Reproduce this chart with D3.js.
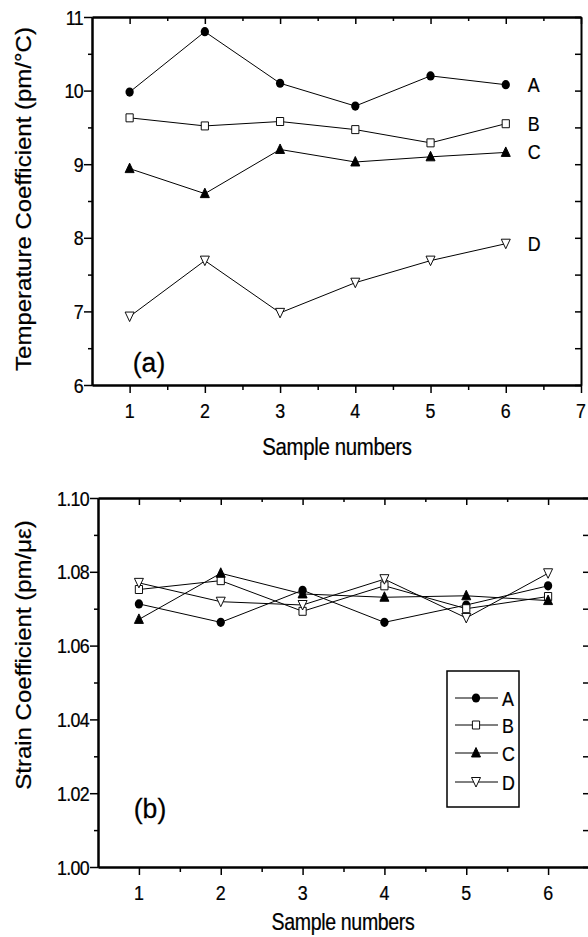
<!DOCTYPE html>
<html>
<head>
<meta charset="utf-8">
<script src="https://cdn.jsdelivr.net/npm/d3@7"></script>
<style>
  body { margin: 0; background: #fff; }
  text { font-family: "Liberation Sans", Arial, sans-serif; fill: #000; stroke: #000; stroke-width: 0.25; }
</style>
</head>
<body>
<svg id="chart" width="588" height="937"></svg>
<script>
// sample numbers on the x axis
const samples = [1, 2, 3, 4, 5, 6];
const seriesNames = ["A", "B", "C", "D"];

// (a) temperature coefficient, pm/°C
const tempA = [9.98, 10.80, 10.10, 9.79, 10.20, 10.08];
const tempB = [9.63, 9.52, 9.58, 9.47, 9.29, 9.55];
const tempC = [8.94, 8.60, 9.20, 9.03, 9.10, 9.16];
const tempD = [6.93, 7.69, 6.98, 7.39, 7.69, 7.92];

// (b) strain coefficient, pm/microstrain
const strainA = [1.0713, 1.0663, 1.0750, 1.0663, 1.0710, 1.0762];
const strainB = [1.0752, 1.0776, 1.0693, 1.0762, 1.0700, 1.0733];
const strainC = [1.0671, 1.0796, 1.0740, 1.0731, 1.0735, 1.0722];
const strainD = [1.0770, 1.0719, 1.0710, 1.0780, 1.0675, 1.0796];

const tempXTicks = [1, 2, 3, 4, 5, 6, 7];
const tempXMinor = [1.5, 2.5, 3.5, 4.5, 5.5, 6.5];
const tempYTicks = [6, 7, 8, 9, 10, 11];
const tempYMinor = [6.5, 7.5, 8.5, 9.5, 10.5];
const strainXTicks = [1, 2, 3, 4, 5, 6];
const strainXMinor = [1.5, 2.5, 3.5, 4.5, 5.5];
const strainYTicks = [1.00, 1.02, 1.04, 1.06, 1.08, 1.10];
const strainYMinor = [1.01, 1.03, 1.05, 1.07, 1.09];

const SX = 0.85; // the scan is squeezed horizontally

const svg = d3.select("#chart");

// marker shapes
const markerPath = {
  A: null,
  B: "M-4,-4H4V4H-4Z",
  C: "M0,-5.5L5,4L-5,4Z",
  D: "M0,5L5,-4.5L-5,-4.5Z"
};
const markerFill = { A: "#000", B: "#fff", C: "#000", D: "#fff" };

function drawMarker(g, name, x, y) {
  const m = g.append("g").attr("transform", `translate(${x},${y}) scale(0.9,1)`);
  if (name === "A") {
    m.append("circle").attr("r", 4.6).attr("fill", "#000");
  } else {
    m.append("path").attr("d", markerPath[name])
      .attr("fill", markerFill[name]).attr("stroke", "#000").attr("stroke-width", 1);
  }
}

function hText(g, x, y, str, size, anchor) {
  return g.append("text")
    .attr("transform", `translate(${x},${y}) scale(${SX},1)`)
    .attr("text-anchor", anchor || "middle")
    .attr("font-size", size)
    .text(str);
}

function drawPanel(p) {
  const x = d3.scaleLinear().domain(p.xDomain).range([p.left, p.right]);
  const y = d3.scaleLinear().domain(p.yDomain).range([p.bottom, p.top]);
  const g = svg.append("g");

  // axes: main ones outward, mirrored ones inward
  const styleAxis = a => {
    a.select(".domain").attr("stroke-width", 2);
    a.selectAll(".tick line").attr("stroke-width", 1.5);
    a.selectAll("text").remove();
  };
  g.append("g").attr("transform", `translate(0,${p.bottom})`)
    .call(d3.axisBottom(x).tickValues(p.xTicks).tickSize(8).tickSizeOuter(0)).call(styleAxis);
  g.append("g").attr("transform", `translate(0,${p.bottom})`)
    .call(d3.axisBottom(x).tickValues(p.xMinor).tickSize(5).tickSizeOuter(0)).call(styleAxis);
  g.append("g").attr("transform", `translate(0,${p.top})`)
    .call(d3.axisTop(x).tickValues(p.xTicks).tickSize(-7).tickSizeOuter(0)).call(styleAxis);
  g.append("g").attr("transform", `translate(0,${p.top})`)
    .call(d3.axisTop(x).tickValues(p.xMinor).tickSize(-4).tickSizeOuter(0)).call(styleAxis);
  g.append("g").attr("transform", `translate(${p.left},0)`)
    .call(d3.axisLeft(y).tickValues(p.yTicks).tickSize(8).tickSizeOuter(0)).call(styleAxis);
  g.append("g").attr("transform", `translate(${p.left},0)`)
    .call(d3.axisLeft(y).tickValues(p.yMinor).tickSize(4).tickSizeOuter(0)).call(styleAxis);
  g.append("g").attr("transform", `translate(${p.right},0)`)
    .call(d3.axisRight(y).tickValues(p.yTicks.concat(p.yMinor)).tickSize(-6).tickSizeOuter(0)).call(styleAxis);

  // tick labels
  p.xTicks.filter(v => p.xLabels.includes(v)).forEach(v => {
    hText(g, x(v), p.bottom + 33, String(v), 21);
  });
  p.yTicks.forEach(v => {
    hText(g, p.left - 9, y(v) + 7.5, p.yFormat(v), 21, "end").attr("letter-spacing", -0.8);
  });

  // axis titles
  hText(g, p.xTitleX, p.xTitleY, "Sample numbers", p.xTitleSize).attr("letter-spacing", -0.4);
  g.append("text")
    .attr("transform", `translate(${p.yTitleX},${p.yTitleY}) scale(0.9,1) rotate(-90)`)
    .attr("text-anchor", "middle")
    .attr("font-size", p.yTitleSize)
    .text(p.yTitle);

  // series
  const line = d3.line().x((d, i) => x(samples[i])).y(d => y(d));
  seriesNames.forEach((name, k) => {
    const vals = p.series[k];
    g.append("path").datum(vals).attr("d", line)
      .attr("fill", "none").attr("stroke", "#000").attr("stroke-width", 1);
    vals.forEach((v, i) => drawMarker(g, name, x(samples[i]), y(v)));
  });

  return { g, x, y };
}

// panel (a)
const pa = drawPanel({
  left: 92, right: 581, top: 17, bottom: 385,
  xDomain: [0.5, 7], yDomain: [6, 11],
  xTicks: tempXTicks, xMinor: tempXMinor, xLabels: tempXTicks,
  yTicks: tempYTicks, yMinor: tempYMinor, yFormat: d3.format("d"),
  xTitleX: 337, xTitleY: 455, xTitleSize: 24,
  yTitleX: 31, yTitleY: 199, yTitleSize: 24,
  yTitle: "Temperature Coefficient (pm/\u00B0C)",
  series: [tempA, tempB, tempC, tempD]
});
// end-of-line letters
seriesNames.forEach((name, k) => {
  const vals = [tempA, tempB, tempC, tempD][k];
  hText(pa.g, pa.x(6) + 22, pa.y(vals[5]) + 7, name, 21, "start");
});
hText(pa.g, 149, 372, "(a)", 28).attr("transform", `translate(149,372) scale(0.95,1)`);

// panel (b)
const pb = drawPanel({
  left: 98, right: 589, top: 498, bottom: 867,
  xDomain: [0.5, 6.5], yDomain: [1.00, 1.10],
  xTicks: strainXTicks, xMinor: strainXMinor, xLabels: strainXTicks,
  yTicks: strainYTicks, yMinor: strainYMinor, yFormat: d3.format(".2f"),
  xTitleX: 343, xTitleY: 930, xTitleSize: 23,
  yTitleX: 31, yTitleY: 655, yTitleSize: 24,
  yTitle: "Strain Coefficient (pm/\u03BC\u03B5)",
  series: [strainA, strainB, strainC, strainD]
});
hText(pb.g, 150, 818, "(b)", 28).attr("transform", `translate(150,818) scale(0.95,1)`);

// legend
const lg = pb.g.append("g");
lg.append("rect").attr("x", 447).attr("y", 671).attr("width", 72).attr("height", 136)
  .attr("fill", "#fff").attr("stroke", "#000").attr("stroke-width", 1.5);
const legendY = [698, 725, 753, 782];
seriesNames.forEach((name, k) => {
  lg.append("line").attr("x1", 455).attr("x2", 498).attr("y1", legendY[k]).attr("y2", legendY[k])
    .attr("stroke", "#000").attr("stroke-width", 1);
  drawMarker(lg, name, 476, legendY[k]);
  hText(lg, 502, legendY[k] + 7.5, name, 21, "start");
});
</script>
</body>
</html>
